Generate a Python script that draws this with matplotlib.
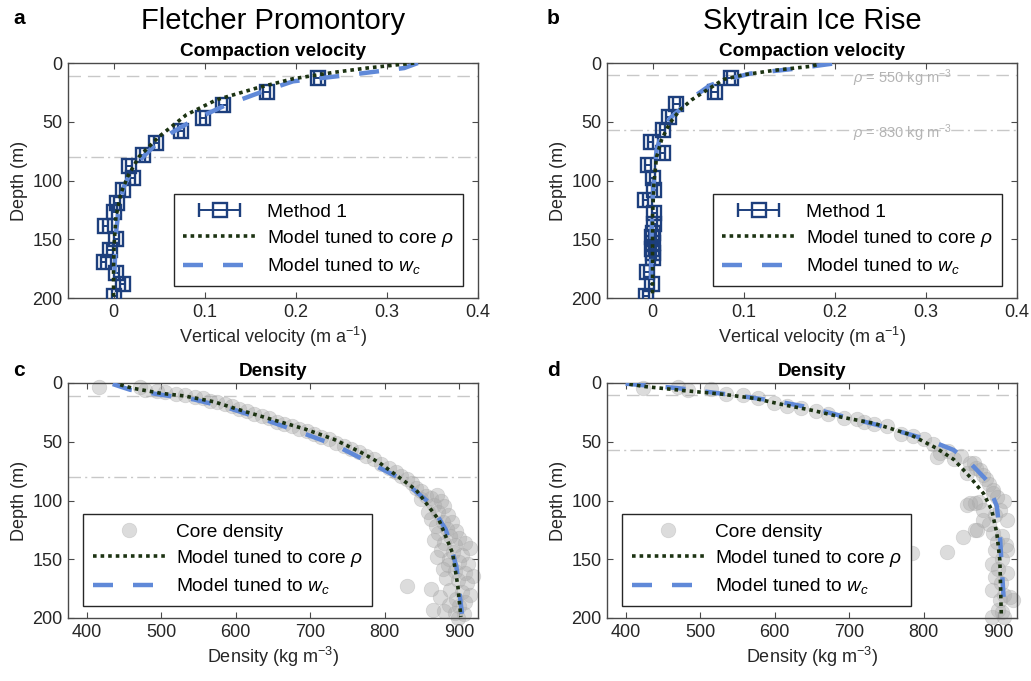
import matplotlib
matplotlib.use('Agg')
import matplotlib.pyplot as plt
from matplotlib.legend_handler import HandlerErrorbar

plt.rcParams['font.family'] = ['Liberation Sans', 'DejaVu Sans']
plt.rcParams['mathtext.fontset'] = 'custom'
plt.rcParams['mathtext.rm'] = 'Liberation Sans'
plt.rcParams['mathtext.it'] = 'Liberation Sans:italic'
plt.rcParams['mathtext.bf'] = 'Liberation Sans:bold'

# ---------------- data ----------------
sites = ['Fletcher Promontory', 'Skytrain Ice Rise']

# Method 1 compaction velocity (m a^-1) vs depth (m)
m1_a_depth = [13, 25, 36, 47, 58, 68, 78, 88, 98, 108, 119, 127, 139, 150, 159, 169, 179, 188, 198]
m1_a_vel = [0.224, 0.168, 0.120, 0.098, 0.074, 0.047, 0.032, 0.017, 0.021, 0.010, 0.004, 0.001,
            -0.009, 0.003, -0.004, -0.011, 0.003, 0.010, 0.001]
m1_a_err = [0.004, 0.004, 0.004, 0.003, 0.003, 0.003, 0.003, 0.003, 0.003, 0.003, 0.003, 0.003,
            0.003, 0.003, 0.003, 0.003, 0.003, 0.003, 0.003]

m1_b_depth = [13, 25, 35, 46, 57, 67, 77, 87, 98, 108, 117, 128, 137, 145, 148, 153, 158, 162,
              166, 178, 188, 198]
m1_b_vel = [0.086, 0.068, 0.026, 0.018, 0.011, -0.002, 0.011, -0.005, 0.000, 0.002, -0.008,
            0.002, 0.002, 0.001, -0.001, 0.000, -0.001, 0.001, 0.000, -0.006, -0.001, -0.007]
m1_b_err = [0.004, 0.004, 0.004, 0.003, 0.003, 0.003, 0.003, 0.003, 0.003, 0.003, 0.003,
            0.003, 0.003, 0.003, 0.003, 0.003, 0.003, 0.003, 0.003, 0.003, 0.003, 0.003]

# Model velocity profiles
va_rho_vel = [0.330, 0.278, 0.2415, 0.197, 0.157, 0.113, 0.080, 0.050, 0.028, 0.0155, 0.008,
              0.0026, 0.0007, 0.0, 0.0]
va_rho_dep = [0, 4.3, 8, 13.4, 21.3, 31.3, 44, 62.6, 79.7, 96.7, 111, 131, 154, 173, 200]
va_wc_vel = [0.334, 0.319, 0.260, 0.197, 0.164, 0.124, 0.088, 0.063, 0.044, 0.031, 0.020,
             0.0115, 0.006, 0.0026, 0.0007]
va_wc_dep = [0, 4.3, 10, 15.6, 24.2, 35.6, 48.4, 59.7, 71, 81, 91, 105, 122, 145, 185]

vb_rho_vel = [0.180, 0.174, 0.133, 0.100, 0.078, 0.060, 0.043, 0.030, 0.019, 0.010, 0.0044,
              0.0015, 0.0, 0.0]
vb_rho_dep = [1.5, 2.8, 6.3, 10, 14, 22.8, 31.3, 40, 51, 65, 80, 102, 131, 199]
vb_wc_vel = [0.197, 0.155, 0.107, 0.082, 0.063, 0.0485, 0.034, 0.019, 0.010, 0.0044, 0.002,
             0.0, -0.001, -0.002]
vb_wc_dep = [0.6, 5, 9, 14, 19, 27, 37, 47, 60, 74, 94, 117, 145, 196]

# Core density (kg m^-3) vs depth (m)
core_c_rho = [417, 472, 478, 495, 505, 520, 532, 545, 556, 565, 575, 585, 595, 605, 615, 625,
              635, 645, 655, 665, 675, 685, 695, 705, 715, 725, 735, 745, 755, 765, 775, 785,
              795, 805, 815, 822, 830, 836, 842, 848, 855, 848, 862, 870, 875, 866, 880, 858,
              872, 885, 862, 878, 890, 868, 884, 896, 872, 888, 900, 866, 880, 894, 908, 876,
              892, 904, 914, 870, 886, 900, 912, 878, 894, 908, 918, 882, 898, 910, 830, 862,
              888, 904, 914, 874, 896, 908, 886, 900, 864, 880, 894, 906, 898, 885]
core_c_dep = [3, 3, 6, 7, 8, 9, 10, 12, 13, 15, 16, 18, 20, 22, 24, 26,
              28, 30, 33, 35, 37, 39, 41, 43, 46, 48, 51, 54, 56, 59, 62, 65,
              69, 72, 76, 79, 82, 85, 89, 92, 96, 99, 98, 95, 100, 104, 105, 110,
              110, 112, 116, 118, 118, 122, 124, 126, 128, 130, 132, 134, 136, 138, 136, 142,
              144, 146, 140, 148, 150, 152, 154, 158, 160, 162, 164, 166, 168, 170, 173, 175,
              176, 178, 180, 182, 184, 186, 189, 190, 193, 194, 196, 197, 200, 155]

core_d_rho = [423, 470, 483, 514, 534, 557, 577, 599, 617, 635, 655, 671, 693, 710, 720, 733,
              751, 769, 785, 800, 812, 822, 818, 832, 840, 850, 862, 870, 875, 880, 884, 888,
              893, 893, 898, 869, 858, 862, 874, 907, 880, 902, 895, 911, 880, 869, 872, 893,
              905, 853, 898, 910, 831, 784, 896, 911, 892, 905, 900, 912, 895, 903, 892, 908,
              916, 902, 920, 900, 892, 907, 905, 888, 858, 867]
core_d_dep = [4, 3, 6, 5, 9, 10, 13, 17, 20, 21, 24, 26, 30, 31, 33, 35,
              37, 43, 45, 48, 52, 60, 63, 58, 65, 62, 68, 72, 74, 78, 82, 86,
              91, 94, 97, 102, 104, 102, 101, 100, 108, 108, 112, 117, 117, 125, 125, 128,
              130, 131, 135, 138, 144, 145, 142, 142, 154, 150, 158, 162, 165, 170, 176, 180,
              182, 185, 185, 193, 199, 199, 195, 120, 77, 68]

# Model density profiles
dc_rho_rho = [445, 462, 500, 531, 571, 611, 651, 692, 732, 768, 793, 842, 873, 891, 898, 902]
dc_rho_dep = [1.5, 4.5, 8.8, 11, 16, 24, 31.5, 39, 48, 59, 68, 91, 117, 145, 173, 199]
dc_wc_rho = [435, 458, 500, 544, 589, 638, 683, 732, 768, 820, 860, 882, 896, 904]
dc_wc_dep = [0.9, 5.7, 10, 14, 21, 31, 41, 52.5, 64, 81, 102, 125, 156, 199]

dd_rho_rho = [405, 427, 479, 528, 572, 613, 653, 689, 733, 769, 782, 817, 840, 862, 880, 891,
              898, 902, 904]
dd_rho_dep = [1, 3.1, 6.5, 9.4, 13, 18.7, 23.6, 29, 34.3, 41.4, 44, 55.5, 65, 80, 94, 108,
              128, 151, 199]
dd_wc_rho = [400, 469, 558, 603, 648, 692, 737, 804, 840, 862, 884, 898, 902, 904, 907]
dd_wc_dep = [0.6, 4.3, 11.4, 15.6, 21, 28.5, 35.6, 48, 57, 68, 82.5, 105, 128, 151, 182]

# Critical density depths (550 and 830 kg m^-3)
rho550_depth = [11, 10.5]
rho830_depth = [80, 57]

vel_ticks = [0, 0.1, 0.2, 0.3, 0.4]
dens_ticks = [400, 500, 600, 700, 800, 900]
depth_ticks = [0, 50, 100, 150, 200]

# ---------------- styling ----------------
C_SQ = '#1d3f7d'
C_DOT = '#1c3312'
C_DASH = '#6089d8'
C_GREY = '#a9a9a9'
C_REF = '#c8c8c8'
C_AX = '#4a4a4a'
C_TXT = '#262626'
FS = 13
LFS = 13.8

W, H = 1031, 681
fig = plt.figure(figsize=(W / 100, H / 100), dpi=100)


def add_ax(l, t, r, b):
    return fig.add_axes([l / W, 1 - b / H, (r - l) / W, (b - t) / H])


ax_a = add_ax(68, 63, 478, 298)
ax_b = add_ax(607, 63, 1017, 298)
ax_c = add_ax(68, 383, 478, 618)
ax_d = add_ax(607, 383, 1017, 618)


def style(ax, xlim, xticks):
    ax.set_xlim(*xlim)
    ax.set_ylim(200, 0)
    ax.set_xticks(xticks)
    ax.set_xticklabels(['{:g}'.format(t) for t in xticks])
    ax.set_yticks(depth_ticks)
    ax.tick_params(direction='in', top=True, right=True, length=4, width=0.8,
                   color=C_AX, labelcolor=C_TXT, labelsize=FS, pad=4)
    for s in ax.spines.values():
        s.set_color(C_AX)
        s.set_linewidth(1.0)
    ax.set_ylabel('Depth (m)', fontsize=FS, color=C_TXT, labelpad=3)


def ref_lines(ax, i):
    ax.axhline(rho550_depth[i], color=C_REF, lw=1.0, ls=(0, (9, 5)), zorder=1)
    ax.axhline(rho830_depth[i], color=C_REF, lw=1.0, ls=(0, (9, 3, 1.5, 3)), zorder=1)


leg_kw = dict(fontsize=LFS, frameon=True, fancybox=False, framealpha=1, edgecolor='#262626',
              borderaxespad=0, handlelength=3.8, handletextpad=0.55, labelspacing=0.38,
              borderpad=0.5, numpoints=1)

lab_rho = r'Model tuned to core $\it{\rho}$'
lab_wc = r'Model tuned to $\it{w}_{\it{c}}$'

# velocity panels
for i, (ax, dep, vel, err, mv1, md1, mv2, md2) in enumerate([
        (ax_a, m1_a_depth, m1_a_vel, m1_a_err, va_rho_vel, va_rho_dep, va_wc_vel, va_wc_dep),
        (ax_b, m1_b_depth, m1_b_vel, m1_b_err, vb_rho_vel, vb_rho_dep, vb_wc_vel, vb_wc_dep)]):
    style(ax, (-0.05, 0.4), vel_ticks)
    ref_lines(ax, i)
    eb = ax.errorbar(vel, dep, xerr=err, fmt='s', mfc='none', mec=C_SQ, mew=1.7, ms=9.5,
                     ecolor=C_SQ, elinewidth=1.4, capsize=4.8, capthick=1.4, zorder=3)
    l2, = ax.plot(mv2, md2, color=C_DASH, lw=3.2, ls=(0, (4.5, 4.5)), zorder=4)
    l1, = ax.plot(mv1, md1, color=C_DOT, lw=2.6, ls=(0, (1, 1.1)), zorder=5)
    ax.set_title('Compaction velocity', fontsize=FS + 0.7, fontweight='bold', pad=5,
                 color='black')
    ax.set_xlabel('Vertical velocity (m a$^{-1}$)', fontsize=FS, color=C_TXT, labelpad=3)
    ax.legend([eb, l1, l2], ['Method 1', lab_rho, lab_wc], loc='lower right',
              bbox_to_anchor=(0.963, 0.051),
              handler_map={type(eb): HandlerErrorbar(xerr_size=1.05)}, **leg_kw)

ax_b.text(0.22, rho550_depth[1] + 2.5, r'$\it{\rho}$ = 550 kg m$^{-3}$', color='#b4b4b4',
          fontsize=10.5, ha='left', va='center', zorder=2)
ax_b.text(0.22, rho830_depth[1] + 2.5, r'$\it{\rho}$ = 830 kg m$^{-3}$', color='#b4b4b4',
          fontsize=10.5, ha='left', va='center', zorder=2)

# density panels
for i, (ax, cr, cd, r1, d1, r2, d2) in enumerate([
        (ax_c, core_c_rho, core_c_dep, dc_rho_rho, dc_rho_dep, dc_wc_rho, dc_wc_dep),
        (ax_d, core_d_rho, core_d_dep, dd_rho_rho, dd_rho_dep, dd_wc_rho, dd_wc_dep)]):
    style(ax, (375, 925), dens_ticks)
    ref_lines(ax, i)
    l0, = ax.plot(cr, cd, 'o', ms=10.5, mfc=C_GREY, mec=C_GREY, mew=0.5, alpha=0.4,
                  zorder=2, clip_on=False)
    l2, = ax.plot(r2, d2, color=C_DASH, lw=3.2, ls=(0, (4.5, 4.5)), zorder=4)
    l1, = ax.plot(r1, d1, color=C_DOT, lw=2.6, ls=(0, (1, 1.1)), zorder=5)
    ax.set_title('Density', fontsize=FS + 0.7, fontweight='bold', pad=5, color='black')
    ax.set_xlabel('Density (kg m$^{-3}$)', fontsize=FS, color=C_TXT, labelpad=3)
    ax.legend([l0, l1, l2], ['Core density', lab_rho, lab_wc], loc='lower left',
              bbox_to_anchor=(0.037, 0.051), **leg_kw)

# site titles and panel letters
fig.text(273 / W, 1 - 21 / H, sites[0], fontsize=21, ha='center', va='center', color='black')
fig.text(812 / W, 1 - 21 / H, sites[1], fontsize=21, ha='center', va='center', color='black')
for lt, x, y in [('a', 19, 18), ('b', 553, 18), ('c', 19, 370), ('d', 553, 370)]:
    fig.text(x / W, 1 - y / H, lt, fontsize=15, fontweight='bold', ha='center', va='center')

fig.savefig('out.png', dpi=100)
